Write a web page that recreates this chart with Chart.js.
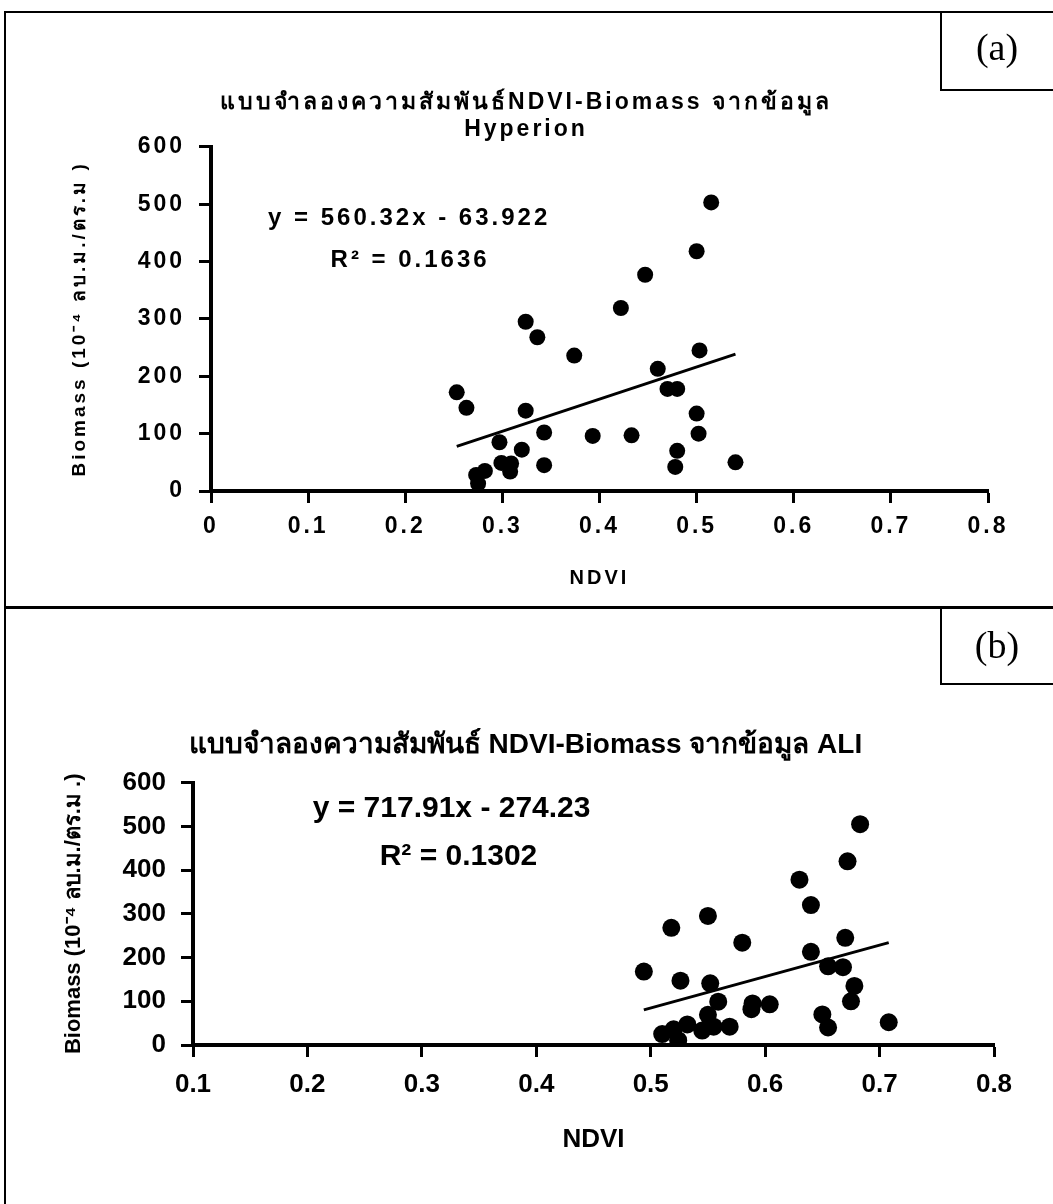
<!DOCTYPE html>
<html>
<head>
<meta charset="utf-8">
<script src="https://cdn.jsdelivr.net/npm/chart.js@4.4.0/dist/chart.umd.min.js"></script>
<style>
body{margin:0;background:#fff;}
#page{position:relative;width:1053px;height:1204px;overflow:hidden;background:#fff;}
.ln{position:absolute;background:#000;}
.tag{position:absolute;left:941px;width:112px;text-align:center;line-height:40px;font-family:"Liberation Serif","DejaVu Serif",serif;font-size:38px;color:#000;}
.box{position:absolute;left:0;width:1053px;}
</style>
</head>
<body>
<div id="page">
  <div class="box" style="top:0;height:606px"><canvas id="dia1"></canvas></div>
  <div class="box" style="top:608px;height:596px"><canvas id="dia2"></canvas></div>

  <!-- frame -->
  <div class="ln" style="left:4px;top:11px;width:1049px;height:2px"></div>
  <div class="ln" style="left:4px;top:11px;width:2px;height:1193px"></div>
  <div class="ln" style="left:4px;top:606px;width:1049px;height:3px"></div>
  <div class="ln" style="left:940px;top:11px;width:2px;height:80px"></div>
  <div class="ln" style="left:940px;top:89px;width:113px;height:2px"></div>
  <div class="ln" style="left:940px;top:608px;width:2px;height:77px"></div>
  <div class="ln" style="left:940px;top:683px;width:113px;height:2px"></div>
  <div class="tag" style="top:27px">(a)</div>
  <div class="tag" style="top:625px">(b)</div>
</div>
<script>
Chart.defaults.font.family = "'Liberation Sans', Arial, sans-serif";
Chart.defaults.color = "#000";

// Hyperion
let hypNdvi = [0.253,0.263,0.324,0.336,0.374,0.324,0.343,0.393,0.297,0.320,0.299,0.309,0.308,0.343,0.282,0.273,0.275,
               0.422,0.447,0.500,0.515,0.460,0.470,0.480,0.503,0.500,0.502,0.433,0.480,0.478,0.540];
let hypBio  = [172,145,295,268,236,140,102,96,85,72,49,48,34,45,35,28,13,
               319,377,418,503,213,178,178,245,135,100,97,70,42,50];
let hypFit = [560.32, -63.922]; // slope, intercept

// ALI
let aliNdvi = [0.494,0.518,0.550,0.580,0.526,0.552,0.559,0.550,0.589,0.588,0.604,0.569,0.555,0.545,0.532,0.520,0.510,0.524,
               0.630,0.640,0.672,0.683,0.640,0.655,0.668,0.670,0.678,0.675,0.650,0.655,0.708];
let aliBio  = [168,268,295,234,147,141,99,69,95,82,93,42,42,33,47,36,25,11,
               378,320,420,505,213,180,178,245,135,100,70,40,52];
let aliFit = [717.91, -274.23];

function points(xs, ys){
  return xs.map((v,i) => ({x:v, y:ys[i]}));
}
// trend line over the data range
function trend(xs, fit){
  let a = Math.min(...xs), b = Math.max(...xs);
  return [{x:a, y:fit[0]*a+fit[1]}, {x:b, y:fit[0]*b+fit[1]}];
}

// equation text, placed in data units
function eqPlugin(lines, font, spacing){
  return {
    id:'eq',
    afterDatasetsDraw(chart){
      let ctx = chart.ctx, x = chart.scales.x, y = chart.scales.y;
      ctx.save();
      ctx.font = font;
      ctx.letterSpacing = spacing;
      ctx.fillStyle = "#000";
      ctx.textAlign = "center";
      ctx.textBaseline = "middle";
      lines.forEach(l => ctx.fillText(l[0], x.getPixelForValue(l[1]), y.getPixelForValue(l[2])));
      ctx.restore();
    }
  };
}

// wide letters like the top figure
let spaced = {
  id:'spaced',
  beforeLayout(c){ c.ctx.letterSpacing = "3px"; },
  beforeDraw(c){ c.ctx.letterSpacing = "3px"; }
};

function axes(o){
  return {
    x:{
      type:'linear', min:o.xmin, max:0.8,
      ticks:{stepSize:0.1, padding:o.xpad, maxRotation:0, font:{size:o.tick, weight:'bold'}},
      grid:{drawOnChartArea:false, drawTicks:true, tickLength:12, tickWidth:3, color:'#000'},
      border:{display:true, width:4, color:'#000'},
      title:{display:true, text:'NDVI', font:{size:o.xt, weight:'bold'}},
      afterFit(s){ s.height = o.xh; }
    },
    y:{
      type:'linear', min:0, max:600,
      ticks:{stepSize:100, padding:o.ypad, font:{size:o.tick, weight:'bold'}},
      grid:{drawOnChartArea:false, drawTicks:true, tickLength:12, tickWidth:3, color:'#000'},
      border:{display:true, width:4, color:'#000'},
      title:{display:true, text:o.ytitle, font:{size:o.yt, weight:'bold'}},
      afterFit(s){ s.width = o.yw; }
    }
  };
}

function sets(xs, ys, fit, r){
  return [
    {type:'scatter', data:points(xs, ys), pointRadius:r, pointHoverRadius:r,
     backgroundColor:'#000', borderWidth:0},
    {type:'line', data:trend(xs, fit), borderColor:'#000', borderWidth:3,
     pointRadius:0, fill:false}
  ];
}

// (a) Hyperion
new Chart(document.getElementById("dia1"), {
  type:'scatter',
  data:{datasets:sets(hypNdvi, hypBio, hypFit, 8)},
  options:{
    responsive:true, maintainAspectRatio:false, animation:false,
    layout:{padding:{left:64, right:65, top:89, bottom:12}},
    plugins:{
      legend:{display:false}, tooltip:{enabled:false},
      title:{display:true, text:['แบบจำลองความสัมพันธ์NDVI-Biomass จากข้อมูล','Hyperion'],
             font:{size:23, weight:'bold', lineHeight:1.17}, padding:{top:0, bottom:4}}
    },
    scales:axes({xmin:0, tick:23, xpad:10, ypad:14, xt:20, yt:19, xh:103, yw:147,
                 ytitle:'Biomass (10⁻⁴ ลบ.ม./ตร.ม )'})
  },
  plugins:[spaced, eqPlugin([['y = 560.32x - 63.922', 0.204, 476], ['R² = 0.1636', 0.205, 402]],
                            "bold 24px 'Liberation Sans', Arial, sans-serif", "3px")]
});

// (b) ALI
new Chart(document.getElementById("dia2"), {
  type:'scatter',
  data:{datasets:sets(aliNdvi, aliBio, aliFit, 9)},
  options:{
    responsive:true, maintainAspectRatio:false, animation:false,
    layout:{padding:{left:57, right:59, top:120, bottom:45}},
    plugins:{
      legend:{display:false}, tooltip:{enabled:false},
      title:{display:true, text:'แบบจำลองความสัมพันธ์ NDVI-Biomass จากข้อมูล ALI',
             font:{size:28, weight:'bold'}, padding:{top:0, bottom:21}}
    },
    scales:axes({xmin:0.1, tick:26, xpad:12, ypad:15, xt:26, yt:22, xh:114, yw:136,
                 ytitle:'Biomass (10⁻⁴ ลบ.ม./ตร.ม .)'})
  },
  plugins:[eqPlugin([['y = 717.91x - 274.23', 0.326, 541], ['R² = 0.1302', 0.332, 430]],
                    "bold 30px 'Liberation Sans', Arial, sans-serif", "0px")]
});
</script>
</body>
</html>
